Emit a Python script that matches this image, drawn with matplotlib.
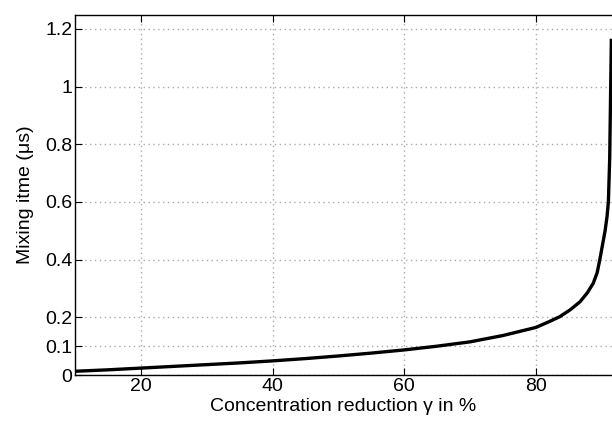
import matplotlib
matplotlib.use("Agg")
import matplotlib.pyplot as plt

# Concentration reduction (%) and mixing time (us)
gamma = [10, 15, 20, 25, 30, 35, 40, 45, 50, 55, 60, 65, 70, 75, 80,
         82, 83.6, 85.2, 86.7, 87.8, 88.7, 89.3, 89.7, 90.1, 90.5, 90.8,
         91.0, 91.2, 91.45]
mix_time = [0.013, 0.018, 0.024, 0.030, 0.036, 0.042, 0.049, 0.057, 0.066,
            0.076, 0.087, 0.100, 0.115, 0.137, 0.165,
            0.185, 0.202, 0.226, 0.254, 0.285, 0.318, 0.355, 0.40, 0.45,
            0.50, 0.55, 0.60, 0.75, 1.16]

xticks = [20, 40, 60, 80]
yticks = [0, 0.1, 0.2, 0.4, 0.6, 0.8, 1, 1.2]
ytick_labels = ['0', '0.1', '0.2', '0.4', '0.6', '0.8', '1', '1.2']

plt.rcParams['font.family'] = ['Liberation Sans', 'DejaVu Sans']

fig = plt.figure(figsize=(6.12, 4.25), dpi=100)
ax = fig.add_axes([0.1225, 0.1176, 0.8775, 0.8471])

ax.plot(gamma, mix_time, color='black', linewidth=2.4)

ax.set_xlim(10, 91.55)
ax.set_ylim(0, 1.248)
ax.set_xticks(xticks)
ax.set_yticks(yticks)
ax.set_yticklabels(ytick_labels)

ax.grid(True, linestyle=(0, (1, 2.5)), color='#aaaaaa', linewidth=1.0)
ax.tick_params(direction='in', length=5, labelsize=14, pad=2, top=True, right=False)
ax.spines['right'].set_visible(False)
for s in ['left', 'bottom', 'top']:
    ax.spines[s].set_linewidth(1.0)

ax.set_xlabel('Concentration reduction γ in %', fontsize=14, labelpad=2)
ax.set_ylabel('Mixing itme (μs)', fontsize=14, labelpad=8)

fig.savefig('out.png', dpi=100)
